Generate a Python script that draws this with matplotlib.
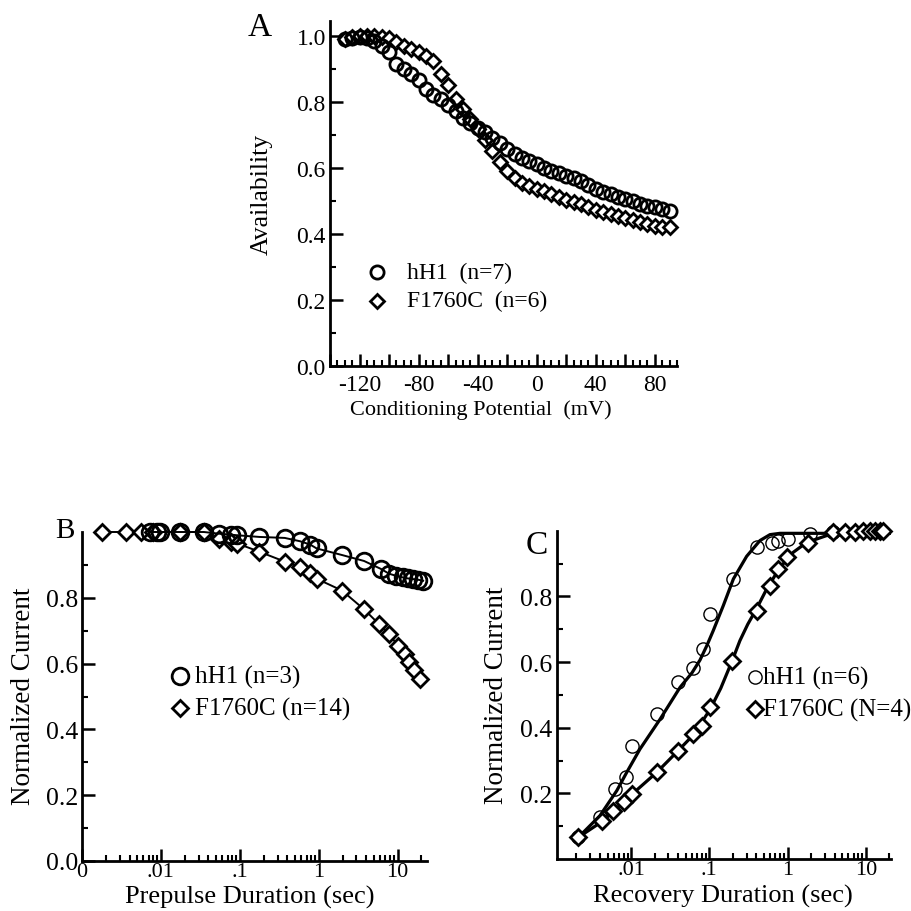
import matplotlib

matplotlib.use("Agg")
import matplotlib.pyplot as plt
from matplotlib.ticker import FixedLocator, FixedFormatter, MultipleLocator, NullFormatter

plt.rcParams["font.family"] = ["Liberation Serif", "DejaVu Serif"]

# ---- Panel A: availability vs conditioning potential ----
A_V = [-130, -125, -120, -115, -110, -105, -100, -95, -90, -85, -80, -75, -70, -65,
       -60, -55, -50, -45, -40, -35, -30, -25, -20, -15, -10, -5, 0, 5, 10, 15, 20,
       25, 30, 35, 40, 45, 50, 55, 60, 65, 70, 75, 80, 85, 90]
A_HH1 = [0.99, 0.995, 0.997, 0.995, 0.985, 0.97, 0.952, 0.915, 0.90, 0.885, 0.865,
         0.84, 0.822, 0.808, 0.79, 0.772, 0.752, 0.737, 0.722, 0.709, 0.692, 0.675,
         0.658, 0.643, 0.63, 0.62, 0.612, 0.601, 0.59, 0.584, 0.577, 0.57, 0.561,
         0.548, 0.537, 0.528, 0.52, 0.512, 0.505, 0.499, 0.492, 0.486, 0.481, 0.477,
         0.468]
A_F1760C = [0.99, 0.997, 1.0, 1.0, 1.0, 0.998, 0.993, 0.982, 0.97, 0.96, 0.95, 0.94,
            0.925, 0.885, 0.85, 0.81, 0.778, 0.748, 0.718, 0.685, 0.65, 0.617, 0.59,
            0.568, 0.553, 0.545, 0.537, 0.529, 0.522, 0.512, 0.503, 0.497, 0.49,
            0.483, 0.472, 0.466, 0.46, 0.453, 0.447, 0.442, 0.436, 0.43, 0.425,
            0.421, 0.42]
A_LABELS = ["hH1  (n=7)", "F1760C  (n=6)"]

# ---- Panel B: development of slow inactivation ----
B_HH1_T = [0.0072, 0.0088, 0.0097, 0.0175, 0.035, 0.054, 0.077, 0.093, 0.177, 0.37,
           0.576, 0.775, 0.94, 1.97, 3.74, 6.1, 7.8, 9.5, 11.6, 13.4, 15.5, 18, 21]
B_HH1_I = [1.0, 1.0, 1.0, 1.0, 1.0, 0.995, 0.992, 0.99, 0.985, 0.982, 0.972, 0.962,
           0.95, 0.93, 0.912, 0.888, 0.873, 0.867, 0.862, 0.859, 0.857, 0.855, 0.852]
B_F_T = [0.0018, 0.0036, 0.0056, 0.0080, 0.0175, 0.035, 0.054, 0.077, 0.093, 0.177,
         0.37, 0.576, 0.775, 0.94, 1.97, 3.74, 5.8, 7.8, 10, 12.2, 14.1, 16.3, 19]
B_F_I = [1.0, 1.0, 1.0, 1.0, 1.0, 1.0, 0.98, 0.97, 0.965, 0.94, 0.91, 0.893, 0.876,
         0.858, 0.822, 0.765, 0.72, 0.69, 0.655, 0.63, 0.605, 0.58, 0.553]
B_LABELS = ["hH1 (n=3)", "F1760C (n=14)"]

# ---- Panel C: recovery from inactivation ----
C_HH1_T = [0.00212, 0.0040, 0.00625, 0.00855, 0.0102, 0.0213, 0.040, 0.0625, 0.084,
           0.102, 0.203, 0.403, 0.627, 0.76, 1.02, 1.93, 3.84]
C_HH1_I = [0.066, 0.127, 0.213, 0.249, 0.345, 0.442, 0.538, 0.581, 0.64, 0.746,
           0.853, 0.949, 0.964, 0.97, 0.975, 0.99, 0.995]
C_F_T = [0.00212, 0.00422, 0.00594, 0.0080, 0.0102, 0.0213, 0.040, 0.0625, 0.080,
         0.102, 0.193, 0.403, 0.596, 0.76, 0.97, 1.84, 3.84, 5.4, 7.25, 9.3, 11.3,
         13, 15.1, 16.6]
C_F_I = [0.066, 0.117, 0.147, 0.173, 0.198, 0.264, 0.33, 0.381, 0.406, 0.462, 0.604,
         0.756, 0.833, 0.883, 0.919, 0.964, 0.995, 0.997, 0.997, 1.0, 1.0, 1.0, 1.0,
         1.0]
# fitted curves
C_HH1_FIT_T = [0.00212, 0.0040, 0.00656, 0.0088, 0.0130, 0.0235, 0.0423, 0.060,
               0.076, 0.093, 0.112, 0.151, 0.203, 0.30, 0.444, 0.596, 0.8, 20]
C_HH1_FIT_I = [0.066, 0.132, 0.208, 0.264, 0.335, 0.426, 0.523, 0.567, 0.606, 0.65,
               0.695, 0.772, 0.853, 0.922, 0.97, 0.988, 0.992, 0.992]
C_F_FIT_T = [0.00212, 0.00443, 0.0088, 0.0213, 0.040, 0.0625, 0.102, 0.14, 0.193,
             0.246, 0.31, 0.403, 0.54, 0.80, 1.18, 1.75, 3.15, 20]
C_F_FIT_I = [0.066, 0.117, 0.183, 0.264, 0.33, 0.378, 0.455, 0.52, 0.600, 0.665,
             0.715, 0.763, 0.822, 0.888, 0.934, 0.964, 0.985, 0.995]
C_LABELS = ["hH1 (n=6)", "F1760C (N=4)"]

LOG_TICKS = [0.01, 0.1, 1, 10]
LOG_LABELS = [".01", ".1", "1", "10"]
LOG_MINOR = [m * 10.0 ** e for e in range(-3, 2) for m in range(2, 10)]

W, H = 911, 912
fig = plt.figure(figsize=(W / 100, H / 100), dpi=100)


def px_axes(left, top, right, bottom):
    return fig.add_axes([left / W, 1 - bottom / H, (right - left) / W, (bottom - top) / H])


def style(ax, tick_fs):
    for s in ("top", "right"):
        ax.spines[s].set_visible(False)
    for s in ("left", "bottom"):
        ax.spines[s].set_linewidth(2.0)
    ax.tick_params(which="major", direction="in", length=9, width=1.8,
                   labelsize=tick_fs, pad=5)
    ax.tick_params(which="minor", direction="in", length=4.5, width=1.5)
    ax.set_facecolor("none")


def manual_legend(ax, x_mark, x_text, ys, markers, labels, fs, ms_list, mew_list):
    for y, m, lab, ms, mew in zip(ys, markers, labels, ms_list, mew_list):
        ax.plot([x_mark], [y], marker=m, ms=ms, mfc="white", mec="black", mew=mew,
                transform=ax.transAxes, clip_on=False)
        ax.text(x_text, y, lab, transform=ax.transAxes, fontsize=fs, ha="left",
                va="center")


# ---------------- A ----------------
axA = px_axes(330, 22, 677, 367)
style(axA, 17)
axA.plot(A_V, A_F1760C, ls="none", marker="D", ms=7, mfc="white", mec="black",
         mew=2.0, clip_on=False)
axA.plot(A_V, A_HH1, ls="none", marker="o", ms=9.5, mfc="none", mec="black",
         mew=2.0, clip_on=False)
axA.set_xlim(-140, 95)
axA.set_ylim(0, 1.045)
xt = list(range(-140, 100, 20))
axA.set_xticks(xt)
axA.set_xticklabels([str(v) if v in (-120, -80, -40, 0, 40, 80) else "" for v in xt])
axA.xaxis.set_minor_locator(MultipleLocator(5))
axA.set_yticks([0.0, 0.2, 0.4, 0.6, 0.8, 1.0])
axA.set_yticklabels(["0.0", "0.2", "0.4", "0.6", "0.8", "1.0"])
axA.yaxis.set_minor_locator(MultipleLocator(0.1))
axA.tick_params(axis="y", pad=3)
axA.tick_params(axis="x", pad=6)
axA.set_xlabel("Conditioning Potential  (mV)", fontsize=16, va="center")
axA.xaxis.set_label_coords(0.435, -0.125)
axA.set_ylabel("Availability", fontsize=18.5, va="center")
axA.yaxis.set_label_coords(-0.196, 0.5)
manual_legend(axA, 0.1346, 0.221, [0.2716, 0.189], ["o", "D"], A_LABELS, 17,
              [9.5, 7], [2.0, 2.0])
fig.text(248 / W, 1 - 12 / H, "A", fontsize=24, ha="left", va="top")

# ---------------- B ----------------
axB = px_axes(82, 533, 427, 862)
style(axB, 18.5)
axB.plot(B_F_T, B_F_I, color="black", lw=1.4, marker="D", ms=8, mfc="white",
         mec="black", mew=2.0, clip_on=False)
axB.plot(B_HH1_T, B_HH1_I, color="black", lw=1.4, marker="o", ms=12, mfc="none",
         mec="black", mew=2.0, clip_on=False)
axB.set_xscale("log")
axB.set_xlim(0.001, 23.5)
axB.set_ylim(0, 1.0)
axB.xaxis.set_major_locator(FixedLocator([0.001] + LOG_TICKS))
axB.xaxis.set_major_formatter(FixedFormatter(["0"] + LOG_LABELS))
axB.xaxis.set_minor_locator(FixedLocator(LOG_MINOR))
axB.xaxis.set_minor_formatter(NullFormatter())
axB.set_yticks([0.0, 0.2, 0.4, 0.6, 0.8])
axB.set_yticklabels(["0.0", "0.2", "0.4", "0.6", "0.8"])
axB.yaxis.set_minor_locator(FixedLocator([0.1, 0.3, 0.5, 0.7, 0.9]))
axB.tick_params(axis="y", pad=3)
axB.tick_params(axis="x", labelsize=16, pad=1)
axB.set_xlabel("Prepulse Duration (sec)", fontsize=19, va="center")
axB.xaxis.set_label_coords(0.487, -0.108)
axB.set_ylabel("Normalized Current", fontsize=19.5, va="center")
axB.yaxis.set_label_coords(-0.171, 0.505)
manual_legend(axB, 0.284, 0.3275, [0.562, 0.465], ["o", "D"], B_LABELS, 18,
              [12, 8], [2.0, 2.0])
fig.text(55 / W, 1 - 518 / H, "B", fontsize=21, ha="left", va="top")

# ---------------- C ----------------
axC = px_axes(556.7, 531.7, 891, 860)
style(axC, 18.5)
axC.plot(C_HH1_FIT_T, C_HH1_FIT_I, color="black", lw=2.3, clip_on=False)
axC.plot(C_F_FIT_T, C_F_FIT_I, color="black", lw=2.3, clip_on=False)
axC.plot(C_HH1_T, C_HH1_I, ls="none", marker="o", ms=9.5, mfc="none", mec="black",
         mew=1.0, clip_on=False)
axC.plot(C_F_T, C_F_I, ls="none", marker="D", ms=7.7, mfc="white", mec="black",
         mew=2.0, clip_on=False)
axC.set_xscale("log")
axC.set_xlim(0.00112, 21)
axC.set_ylim(0, 1.0)
axC.xaxis.set_major_locator(FixedLocator(LOG_TICKS))
axC.xaxis.set_major_formatter(FixedFormatter(LOG_LABELS))
axC.xaxis.set_minor_locator(FixedLocator(LOG_MINOR))
axC.xaxis.set_minor_formatter(NullFormatter())
axC.set_yticks([0.2, 0.4, 0.6, 0.8])
axC.set_yticklabels(["0.2", "0.4", "0.6", "0.8"])
axC.yaxis.set_minor_locator(FixedLocator([0.1, 0.3, 0.5, 0.7, 0.9]))
axC.tick_params(axis="y", pad=3)
axC.tick_params(axis="x", labelsize=16, pad=1)
axC.set_xlabel("Recovery Duration (sec)", fontsize=19, va="center")
axC.xaxis.set_label_coords(0.496, -0.11)
axC.set_ylabel("Normalized Current", fontsize=19.5, va="center")
axC.yaxis.set_label_coords(-0.179, 0.503)
manual_legend(axC, 0.593, 0.617, [0.553, 0.457], ["o", "D"], C_LABELS, 18,
              [9.5, 7.7], [1.0, 2.0])
fig.text(526 / W, 1 - 531 / H, "C", fontsize=24, ha="left", va="top")

fig.savefig("out.png", dpi=100)
